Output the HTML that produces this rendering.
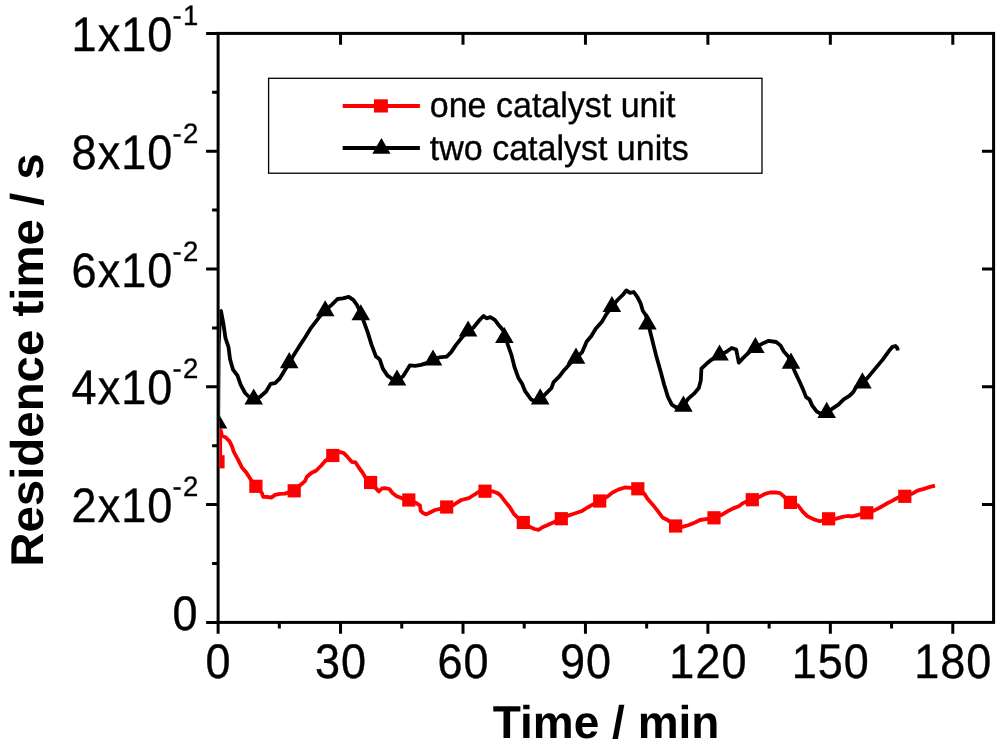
<!DOCTYPE html>
<html><head><meta charset="utf-8"><title>Residence time</title>
<style>html,body{margin:0;padding:0;background:#fff}body{width:1000px;height:745px;overflow:hidden}svg{display:block}text{font-family:"Liberation Sans",Arial,sans-serif;fill:#000;text-rendering:geometricPrecision}.r{stroke:#000;stroke-width:0.35px}</style></head><body>
<svg width="1000" height="745" viewBox="0 0 1000 745">
<rect width="1000" height="745" fill="#fff"/>
<defs><clipPath id="c"><rect x="219.5" y="33.4" width="774.1" height="589.0"/></clipPath></defs>
<rect x="218.1" y="33.4" width="775.5" height="589.0" fill="none" stroke="#000" stroke-width="3"/>
<g clip-path="url(#c)">
<path d="M218.2 421.0 L218.7 345.0 L220.3 311.5 L221.0 311.0 L223.3 323.1 L225.5 338.1 L228.5 347.1 L230.0 359.1 L233.0 369.7 L237.5 375.7 L240.6 384.7 L245.1 393.0 L251.1 399.0 L254.0 399.8 L260.1 396.7 L266.1 391.5 L270.6 383.9 L275.1 383.2 L279.6 378.7 L284.1 371.2 L289.2 363.0 L293.2 356.1 L299.2 346.4 L305.2 337.3 L311.2 327.6 L318.7 317.8 L325.2 310.5 L332.2 304.3 L337.5 299.0 L342.8 298.3 L348.8 296.8 L353.3 299.8 L357.0 305.0 L360.8 313.0 L364.0 322.1 L367.8 332.6 L371.5 344.6 L376.0 356.6 L379.8 359.6 L382.8 368.6 L387.3 375.4 L392.6 379.2 L397.0 380.5 L403.1 376.2 L406.9 370.2 L409.9 365.3 L415.1 365.9 L421.1 364.9 L425.6 363.4 L433.0 360.0 L439.2 357.4 L446.7 356.6 L451.2 352.1 L455.7 345.4 L461.7 337.8 L468.1 331.0 L473.7 327.3 L479.8 319.8 L483.5 316.0 L486.5 318.3 L490.3 317.2 L494.8 319.8 L499.3 325.8 L503.8 331.1 L507.8 344.6 L511.5 355.1 L514.5 367.1 L518.3 377.7 L522.1 383.7 L525.1 391.2 L531.1 399.5 L536.0 401.5 L540.2 399.5 L546.9 392.7 L551.4 388.2 L553.6 382.2 L559.6 376.2 L564.1 370.2 L570.2 363.4 L576.0 358.0 L582.2 352.1 L586.7 341.6 L591.2 336.3 L595.7 328.8 L601.7 322.1 L606.1 314.6 L611.9 306.5 L618.0 299.5 L623.3 294.3 L626.3 290.5 L630.1 292.8 L633.8 292.0 L637.6 297.3 L640.6 303.3 L642.8 310.8 L645.8 315.3 L650.4 332.6 L653.4 344.6 L656.4 356.6 L660.3 370.2 L664.1 384.5 L668.0 397.1 L671.8 404.7 L676.3 407.7 L683.4 405.5 L688.3 398.7 L694.3 393.4 L698.8 388.1 L700.8 380.6 L701.4 368.6 L706.5 363.8 L711.0 360.0 L719.5 355.0 L726.5 351.8 L731.7 348.0 L736.2 349.5 L737.5 356.0 L738.8 362.7 L743.0 358.1 L748.5 352.8 L755.4 347.5 L762.0 343.8 L768.7 340.8 L776.2 342.0 L780.6 345.6 L784.0 351.7 L788.1 356.2 L791.0 362.5 L794.8 371.6 L799.5 381.5 L803.1 389.6 L806.1 397.1 L809.4 399.4 L812.1 405.4 L816.6 411.4 L820.4 413.7 L826.7 412.5 L833.9 407.7 L838.4 404.7 L843.7 399.4 L849.7 395.6 L853.4 391.9 L856.4 386.6 L862.4 383.0 L867.7 377.6 L875.2 368.6 L882.7 359.6 L888.7 351.3 L892.5 346.8 L895.5 346.0 L897.3 348.0 L897.8 350.5" fill="none" stroke="#000" stroke-width="3.8" stroke-linejoin="round" stroke-linecap="butt"/>
<path d="M208.7 428.6 L227.3 428.6 L218.0 412.5 Z" fill="#000"/>
<path d="M244.4 404.5 L263.0 404.5 L253.7 388.4 Z" fill="#000"/>
<path d="M279.9 368.2 L298.5 368.2 L289.2 352.1 Z" fill="#000"/>
<path d="M315.9 316.3 L334.5 316.3 L325.2 300.2 Z" fill="#000"/>
<path d="M351.5 320.3 L370.1 320.3 L360.8 304.2 Z" fill="#000"/>
<path d="M387.7 385.5 L406.3 385.5 L397.0 369.4 Z" fill="#000"/>
<path d="M423.7 365.6 L442.3 365.6 L433.0 349.5 Z" fill="#000"/>
<path d="M458.8 336.6 L477.4 336.6 L468.1 320.5 Z" fill="#000"/>
<path d="M495.1 343.1 L513.7 343.1 L504.4 327.0 Z" fill="#000"/>
<path d="M530.9 404.4 L549.5 404.4 L540.2 388.3 Z" fill="#000"/>
<path d="M566.7 363.7 L585.3 363.7 L576.0 347.6 Z" fill="#000"/>
<path d="M602.6 312.1 L621.2 312.1 L611.9 296.0 Z" fill="#000"/>
<path d="M638.1 329.6 L656.7 329.6 L647.4 313.5 Z" fill="#000"/>
<path d="M674.1 411.7 L692.7 411.7 L683.4 395.6 Z" fill="#000"/>
<path d="M710.2 360.6 L728.8 360.6 L719.5 344.5 Z" fill="#000"/>
<path d="M746.1 353.1 L764.7 353.1 L755.4 337.0 Z" fill="#000"/>
<path d="M781.7 368.7 L800.3 368.7 L791.0 352.6 Z" fill="#000"/>
<path d="M817.4 417.9 L836.0 417.9 L826.7 401.8 Z" fill="#000"/>
<path d="M853.1 388.4 L871.7 388.4 L862.4 372.3 Z" fill="#000"/>
<path d="M218.2 466.0 L220.2 455.0 L220.2 432.0 L220.6 429.9 L221.9 435.5 L225.6 437.4 L229.4 441.1 L231.9 446.1 L233.8 451.8 L237.5 458.6 L241.9 467.4 L246.3 472.4 L250.6 479.3 L255.9 486.3 L261.9 493.0 L263.1 496.8 L267.5 497.0 L271.3 497.6 L275.0 494.9 L280.0 493.9 L285.0 493.6 L294.2 490.5 L301.3 484.3 L305.0 481.1 L306.9 476.8 L311.3 473.0 L316.3 470.5 L321.3 465.5 L325.0 461.1 L332.8 455.5 L339.4 451.9 L343.8 453.1 L347.5 456.9 L351.9 461.9 L355.6 462.5 L358.8 467.5 L362.5 472.5 L365.0 476.9 L370.6 482.5 L376.9 489.4 L378.8 491.5 L381.9 488.5 L385.0 488.1 L389.4 489.0 L392.5 493.1 L396.3 496.0 L401.3 498.1 L408.8 500.0 L416.3 503.1 L420.0 505.6 L420.6 510.6 L423.1 513.1 L426.3 514.4 L430.0 512.5 L435.0 510.0 L440.0 508.8 L446.7 507.0 L453.8 505.0 L455.0 503.8 L461.3 500.0 L468.8 498.1 L473.8 495.0 L478.8 491.9 L485.0 491.0 L492.5 491.3 L497.5 493.1 L500.6 495.6 L505.0 501.3 L510.0 507.5 L513.8 513.8 L516.9 516.9 L523.3 522.5 L530.0 526.9 L534.4 529.0 L538.8 529.8 L542.5 527.3 L548.8 524.4 L554.4 521.9 L561.3 518.7 L568.1 515.6 L573.8 513.8 L581.3 511.3 L587.5 507.5 L593.1 504.4 L599.7 501.0 L606.9 496.9 L612.5 492.5 L618.8 489.4 L625.0 487.5 L631.3 487.8 L637.8 488.8 L644.4 493.8 L647.5 498.8 L652.5 504.4 L657.5 510.6 L662.5 517.5 L667.5 520.0 L675.6 526.0 L682.5 526.9 L688.8 525.0 L695.0 522.5 L700.0 520.0 L707.5 518.8 L714.0 517.8 L721.3 515.0 L727.5 511.3 L733.8 508.1 L738.8 506.3 L743.1 503.1 L745.6 501.9 L752.3 499.7 L759.4 496.9 L765.0 493.8 L770.0 492.5 L775.0 492.3 L780.0 493.1 L783.8 496.3 L790.4 502.4 L798.1 505.6 L802.5 511.3 L807.5 516.3 L813.8 519.4 L820.0 521.3 L828.6 518.8 L835.6 518.8 L842.5 516.9 L847.5 516.0 L852.5 516.3 L860.0 514.4 L866.8 512.8 L873.8 510.6 L880.0 507.5 L886.3 503.8 L892.5 500.6 L898.1 497.5 L904.8 496.0 L911.9 493.8 L917.5 490.6 L923.8 488.8 L930.0 486.9 L935.0 485.6" fill="none" stroke="#f00" stroke-width="3.8" stroke-linejoin="round" stroke-linecap="butt"/>
<rect x="211.4" y="455.2" width="13.2" height="13.2" fill="#f00"/>
<rect x="249.3" y="479.7" width="13.2" height="13.2" fill="#f00"/>
<rect x="287.6" y="484.2" width="13.2" height="13.2" fill="#f00"/>
<rect x="326.2" y="448.9" width="13.2" height="13.2" fill="#f00"/>
<rect x="364.0" y="475.9" width="13.2" height="13.2" fill="#f00"/>
<rect x="402.2" y="493.4" width="13.2" height="13.2" fill="#f00"/>
<rect x="440.1" y="500.4" width="13.2" height="13.2" fill="#f00"/>
<rect x="478.4" y="484.6" width="13.2" height="13.2" fill="#f00"/>
<rect x="516.7" y="515.9" width="13.2" height="13.2" fill="#f00"/>
<rect x="554.7" y="512.1" width="13.2" height="13.2" fill="#f00"/>
<rect x="593.1" y="494.4" width="13.2" height="13.2" fill="#f00"/>
<rect x="631.2" y="482.2" width="13.2" height="13.2" fill="#f00"/>
<rect x="669.0" y="519.4" width="13.2" height="13.2" fill="#f00"/>
<rect x="707.4" y="511.2" width="13.2" height="13.2" fill="#f00"/>
<rect x="745.7" y="493.1" width="13.2" height="13.2" fill="#f00"/>
<rect x="783.8" y="495.8" width="13.2" height="13.2" fill="#f00"/>
<rect x="822.0" y="512.2" width="13.2" height="13.2" fill="#f00"/>
<rect x="860.2" y="506.2" width="13.2" height="13.2" fill="#f00"/>
<rect x="898.2" y="489.7" width="13.2" height="13.2" fill="#f00"/>
</g>
<path d="M218.10 622.4 V633.8 M340.55 622.4 V633.8 M340.55 33.4 V44.8 M463.00 622.4 V633.8 M463.00 33.4 V44.8 M585.45 622.4 V633.8 M585.45 33.4 V44.8 M707.90 622.4 V633.8 M707.90 33.4 V44.8 M830.35 622.4 V633.8 M830.35 33.4 V44.8 M952.80 622.4 V633.8 M952.80 33.4 V44.8 M279.32 622.4 V628.4 M401.77 622.4 V628.4 M524.22 622.4 V628.4 M646.67 622.4 V628.4 M769.12 622.4 V628.4 M891.57 622.4 V628.4 M218.1 622.40 H206.1 M218.1 563.50 H212.1 M218.1 504.60 H206.1 M993.6 504.60 H982.0 M218.1 445.70 H212.1 M218.1 386.80 H206.1 M993.6 386.80 H982.0 M218.1 327.90 H212.1 M218.1 269.00 H206.1 M993.6 269.00 H982.0 M218.1 210.10 H212.1 M218.1 151.20 H206.1 M993.6 151.20 H982.0 M218.1 92.30 H212.1 M218.1 33.40 H206.1" fill="none" stroke="#000" stroke-width="3"/>
<text transform="translate(218.6,677.9) scale(1,1.075)" font-size="45" letter-spacing="1" text-anchor="middle" class="r">0</text>
<text transform="translate(341.0,677.9) scale(1,1.075)" font-size="45" letter-spacing="1" text-anchor="middle" class="r">30</text>
<text transform="translate(463.5,677.9) scale(1,1.075)" font-size="45" letter-spacing="1" text-anchor="middle" class="r">60</text>
<text transform="translate(586.0,677.9) scale(1,1.075)" font-size="45" letter-spacing="1" text-anchor="middle" class="r">90</text>
<text transform="translate(708.4,677.9) scale(1,1.075)" font-size="45" letter-spacing="1" text-anchor="middle" class="r">120</text>
<text transform="translate(830.8,677.9) scale(1,1.075)" font-size="45" letter-spacing="1" text-anchor="middle" class="r">150</text>
<text transform="translate(953.3,677.9) scale(1,1.075)" font-size="45" letter-spacing="1" text-anchor="middle" class="r">180</text>
<text transform="translate(173.2,50.9) scale(1,1.075)" font-size="45" letter-spacing="1" text-anchor="end" class="r">1x10</text>
<text transform="translate(172.6,25.0) scale(1,1.02)" font-size="27.5" letter-spacing="1.2" class="r">-1</text>
<text transform="translate(173.2,168.7) scale(1,1.075)" font-size="45" letter-spacing="1" text-anchor="end" class="r">8x10</text>
<text transform="translate(172.6,142.8) scale(1,1.02)" font-size="27.5" letter-spacing="1.2" class="r">-2</text>
<text transform="translate(173.2,286.5) scale(1,1.075)" font-size="45" letter-spacing="1" text-anchor="end" class="r">6x10</text>
<text transform="translate(172.6,260.6) scale(1,1.02)" font-size="27.5" letter-spacing="1.2" class="r">-2</text>
<text transform="translate(173.2,404.3) scale(1,1.075)" font-size="45" letter-spacing="1" text-anchor="end" class="r">4x10</text>
<text transform="translate(172.6,378.4) scale(1,1.02)" font-size="27.5" letter-spacing="1.2" class="r">-2</text>
<text transform="translate(173.2,522.1) scale(1,1.075)" font-size="45" letter-spacing="1" text-anchor="end" class="r">2x10</text>
<text transform="translate(172.6,496.2) scale(1,1.02)" font-size="27.5" letter-spacing="1.2" class="r">-2</text>
<text transform="translate(198.6,629.6) scale(1,1.075)" font-size="45" letter-spacing="1" text-anchor="end" class="r">0</text>
<text x="606.1" y="738.4" font-size="46" font-weight="bold" text-anchor="middle">Time / min</text>
<text transform="translate(43.2,360) rotate(-90) scale(1.03,1)" font-size="46" font-weight="bold" text-anchor="middle">Residence time / s</text>
<rect x="268.6" y="78.3" width="493.4" height="94.9" fill="#fff" stroke="#000" stroke-width="1.3"/>
<path d="M342.7 106 H419.9" stroke="#f00" stroke-width="4"/>
<rect x="373.9" y="99.3" width="14" height="13.2" fill="#f00"/>
<path d="M342.7 147.9 H419.9" stroke="#000" stroke-width="4"/>
<path d="M372.3 153.7 L390.5 153.7 L381.4 138.1 Z" fill="#000"/>
<text transform="translate(429.8,117.4) scale(1,1.04)" font-size="34" class="r">one catalyst unit</text>
<text transform="translate(429.8,160) scale(1,1.04)" font-size="34" class="r">two catalyst units</text>
</svg></body></html>
